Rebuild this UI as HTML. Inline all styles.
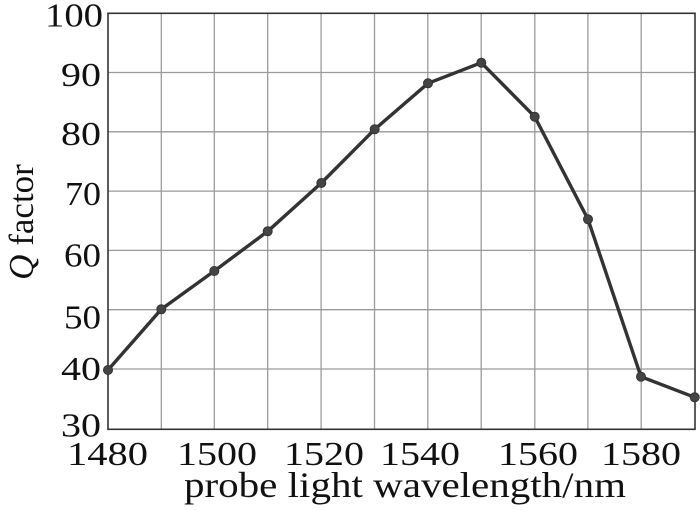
<!DOCTYPE html>
<html>
<head>
<meta charset="utf-8">
<style>
  html, body { margin: 0; padding: 0; background: #fff; }
  svg { display: block; }
  text { font-family: "Liberation Serif", "Times New Roman", serif; fill: #111; }
</style>
</head>
<body>
<svg width="700" height="510" viewBox="0 0 700 510" xmlns="http://www.w3.org/2000/svg">
  <rect width="700" height="510" fill="#fff"/>
  <!-- grid -->
  <g stroke="#9a9a9a" stroke-width="1.3" fill="none">
    <line x1="161.3" y1="13.3" x2="161.3" y2="429.3"/>
    <line x1="214.3" y1="13.3" x2="214.3" y2="429.3"/>
    <line x1="267.7" y1="13.3" x2="267.7" y2="429.3"/>
    <line x1="321.1" y1="13.3" x2="321.1" y2="429.3"/>
    <line x1="374.5" y1="13.3" x2="374.5" y2="429.3"/>
    <line x1="427.8" y1="13.3" x2="427.8" y2="429.3"/>
    <line x1="481.2" y1="13.3" x2="481.2" y2="429.3"/>
    <line x1="534.8" y1="13.3" x2="534.8" y2="429.3"/>
    <line x1="587.9" y1="13.3" x2="587.9" y2="429.3"/>
    <line x1="641.2" y1="13.3" x2="641.2" y2="429.3"/>
    <line x1="108" y1="72.5" x2="695" y2="72.5"/>
    <line x1="108" y1="131.8" x2="695" y2="131.8"/>
    <line x1="108" y1="191.1" x2="695" y2="191.1"/>
    <line x1="108" y1="250.4" x2="695" y2="250.4"/>
    <line x1="108" y1="309.7" x2="695" y2="309.7"/>
    <line x1="108" y1="369" x2="695" y2="369"/>
  </g>
  <!-- frame -->
  <rect x="108" y="13.3" width="587" height="416" fill="none" stroke="#333" stroke-width="1.6"/>
  <!-- data -->
  <polyline fill="none" stroke="#333" stroke-width="3.4" stroke-linejoin="round"
    points="108,370 161.3,309.3 214.3,271 267.7,231.3 321.3,183 374.7,129.3 428,83.3 481.3,62.7 534.7,116.7 588,219.3 641,376.7 694.7,397.3"/>
  <g fill="#444" stroke="#333" stroke-width="1">
    <circle cx="108" cy="370" r="4.5"/>
    <circle cx="161.3" cy="309.3" r="4.5"/>
    <circle cx="214.3" cy="271" r="4.5"/>
    <circle cx="267.7" cy="231.3" r="4.5"/>
    <circle cx="321.3" cy="183" r="4.5"/>
    <circle cx="374.7" cy="129.3" r="4.5"/>
    <circle cx="428" cy="83.3" r="4.5"/>
    <circle cx="481.3" cy="62.7" r="4.5"/>
    <circle cx="534.7" cy="116.7" r="4.5"/>
    <circle cx="588" cy="219.3" r="4.5"/>
    <circle cx="641" cy="376.7" r="4.5"/>
    <circle cx="694.7" cy="397.3" r="4.5"/>
  </g>
  <!-- y tick labels -->
  <g font-size="34">
    <text x="45" y="26.7" textLength="58" lengthAdjust="spacingAndGlyphs">100</text>
    <text x="61" y="86" textLength="40" lengthAdjust="spacingAndGlyphs">90</text>
    <text x="61" y="145" textLength="40" lengthAdjust="spacingAndGlyphs">80</text>
    <text x="65" y="205" textLength="36" lengthAdjust="spacingAndGlyphs">70</text>
    <text x="64" y="266.7" textLength="37" lengthAdjust="spacingAndGlyphs">60</text>
    <text x="64" y="328.3" textLength="37" lengthAdjust="spacingAndGlyphs">50</text>
    <text x="61" y="380" textLength="40" lengthAdjust="spacingAndGlyphs">40</text>
    <text x="61" y="436.7" textLength="40" lengthAdjust="spacingAndGlyphs">30</text>
  </g>
  <!-- x tick labels -->
  <g font-size="34">
    <text x="67" y="465" textLength="81" lengthAdjust="spacingAndGlyphs">1480</text>
    <text x="177" y="465" textLength="80" lengthAdjust="spacingAndGlyphs">1500</text>
    <text x="284" y="465" textLength="80" lengthAdjust="spacingAndGlyphs">1520</text>
    <text x="380" y="465" textLength="80" lengthAdjust="spacingAndGlyphs">1540</text>
    <text x="498" y="465" textLength="80" lengthAdjust="spacingAndGlyphs">1560</text>
    <text x="601" y="465" textLength="80" lengthAdjust="spacingAndGlyphs">1580</text>
  </g>
  <!-- x axis title -->
  <text x="184" y="497" font-size="36" textLength="442" lengthAdjust="spacingAndGlyphs">probe light wavelength/nm</text>
  <!-- y axis title -->
  <text transform="translate(33,222) rotate(-90)" font-size="35" text-anchor="middle"><tspan font-style="italic">Q</tspan> factor</text>
</svg>
</body>
</html>
